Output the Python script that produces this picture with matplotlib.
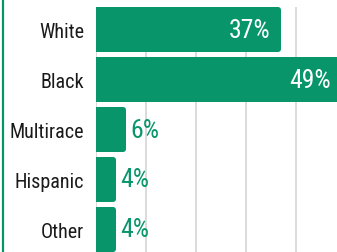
import matplotlib
matplotlib.use("Agg")
import matplotlib.pyplot as plt
from matplotlib.patches import FancyBboxPatch

groups = ["White", "Black", "Multirace", "Hispanic", "Other"]
shares = [37, 49, 6, 4, 4]
ticks = [0, 10, 20, 30, 40]

green = "#08956a"
plt.rcParams["font.family"] = ["Roboto Condensed", "DejaVu Sans"]

fig = plt.figure(figsize=(3.37, 2.53), dpi=100)
ax = fig.add_axes([96 / 337, 0, 1 - 96 / 337, 245 / 253])
ax.set_xlim(0, 241 / 5)
ax.set_ylim(4.45, -0.45)

for t in ticks:
    ax.axvline(t, color="#d4d4d4", lw=1.2, zorder=0)

for i, (g, v) in enumerate(zip(groups, shares)):
    box = FancyBboxPatch((-2, i - 0.45), v + 2, 0.9,
                         boxstyle="round,pad=0,rounding_size=0.6",
                         mutation_aspect=0.1, fc=green, ec="none", zorder=2)
    ax.add_patch(box)
    if v > 15:
        ax.text(v - 2.1, i, f"{v}%", ha="right", va="center", color="white",
                fontsize=18.5, zorder=3)
    else:
        ax.text(v + 0.9, i, f"{v}%", ha="left", va="center", color=green,
                fontsize=18.5, zorder=3)

ax.set_yticks(range(len(groups)))
ax.set_yticklabels(groups, fontsize=14.5, color="#1a1a1a")
ax.tick_params(axis="y", length=0, pad=8.5)
ax.set_xticks([])
for s in ax.spines.values():
    s.set_visible(False)

fig.add_artist(plt.Line2D([2.5 / 337, 2.5 / 337], [0, 1], color=green, lw=1.6,
                          transform=fig.transFigure))

fig.savefig("out.png", dpi=100)
